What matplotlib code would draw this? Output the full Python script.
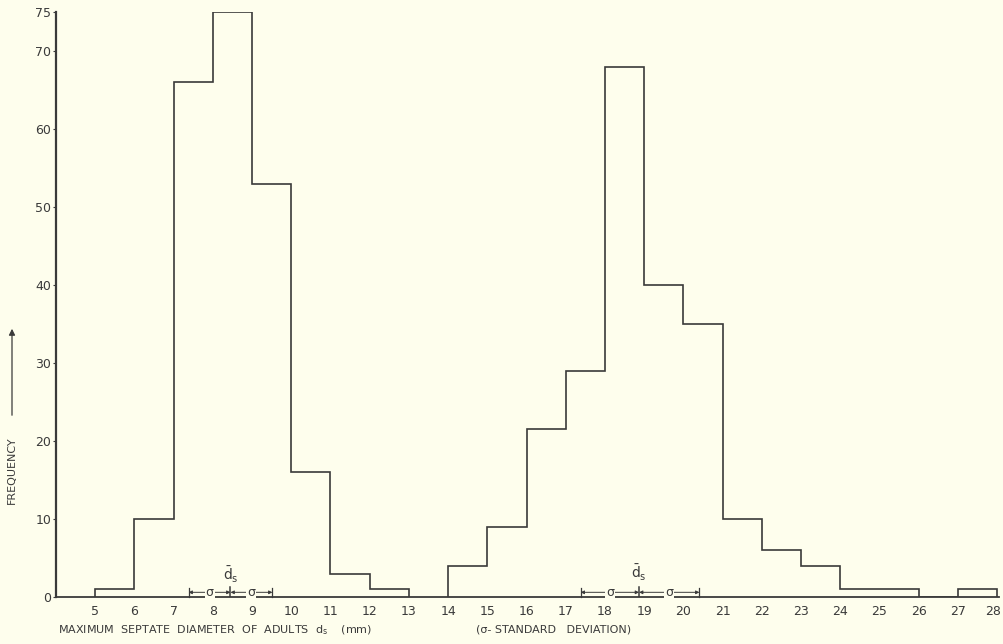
import matplotlib
matplotlib.use("Agg")
import matplotlib.pyplot as plt
import matplotlib.transforms as mtransforms
import numpy as np

# ---- data ----
left_edges = [5, 6, 7, 8, 9, 10, 11, 12, 13]
left_counts = [1, 10, 66, 75, 53, 16, 3, 1]

right_edges = [14, 15, 16, 17, 18, 19, 20, 21, 22, 23, 24, 25, 26, 27, 28]
right_counts = [4, 9, 21.5, 29, 68, 40, 35, 10, 6, 4, 1, 1, 0, 1]

left_mean, left_sigma_lo, left_sigma_hi = 8.45, 7.38, 9.52
right_mean, right_sigma_lo, right_sigma_hi = 18.87, 17.38, 20.41

x_ticks = list(range(5, 29))
y_ticks = [0, 10, 20, 30, 40, 50, 60, 70, 75]

bg = "#fefeed"
ink = "#3a3a3a"

fig = plt.figure(figsize=(10.04, 6.44), dpi=100, facecolor=bg)
ax = fig.add_axes([56 / 1004, 47 / 644, (999 - 56) / 1004, (597 - 12) / 644])
ax.set_facecolor(bg)

ax.stairs(left_counts, left_edges, baseline=0, fill=False, color=ink, lw=1.2)
ax.stairs(right_counts, right_edges, baseline=0, fill=False, color=ink, lw=1.2)

ax.set_xlim(4, 28.05)
ax.set_ylim(0, 75)

ax.set_xticks(x_ticks)
ax.set_xticklabels([str(t) for t in x_ticks])
ax.set_yticks(y_ticks)
ax.set_yticklabels([str(t) for t in y_ticks])
ax.tick_params(axis="x", length=0, pad=6, labelsize=9, labelcolor=ink)
ax.tick_params(axis="y", length=2.5, width=0.8, pad=1, labelsize=9, labelcolor=ink, color=ink)

last = ax.get_xticklabels()[-1]
last.set_ha("right")
last.set_transform(last.get_transform() + mtransforms.ScaledTranslation(4 / 100, 0, fig.dpi_scale_trans))

for s in ["top", "right"]:
    ax.spines[s].set_visible(False)
ax.spines["left"].set_linewidth(1.6)
ax.spines["left"].set_color(ink)
ax.spines["bottom"].set_linewidth(1.3)
ax.spines["bottom"].set_color(ink)


def sigma_marker(mean, lo, hi, lab_y):
    yline = 0.6
    for xv in (lo, hi):
        ax.plot([xv, xv], [0, 1.1], color=ink, lw=0.9, clip_on=False)
    ax.plot([mean, mean], [0, 1.3], color=ink, lw=1.1)
    for a, b in ((lo, mean), (mean, hi)):
        ax.annotate("", xy=(a, yline), xytext=(b, yline),
                    arrowprops=dict(arrowstyle="<|-|>", color=ink, lw=0.7,
                                    mutation_scale=5, shrinkA=0, shrinkB=0))
        ax.text((a + b) / 2, yline, "σ", ha="center", va="center", fontsize=9,
                color=ink, bbox=dict(boxstyle="square,pad=0.08", fc=bg, ec="none"))
    ax.text(mean, lab_y, r"$\bar{\mathrm{d}}_{\mathrm{s}}$", ha="center", va="bottom",
            fontsize=10, color=ink)


sigma_marker(left_mean, left_sigma_lo, left_sigma_hi, 1.6)
sigma_marker(right_mean, right_sigma_lo, right_sigma_hi, 1.8)

fig.text(58 / 1004, 1 - 630 / 644, r"MAXIMUM  SEPTATE  DIAMETER  OF  ADULTS  d$_\mathrm{s}$    (mm)",
         ha="left", va="center", fontsize=8, color=ink)
fig.text(476 / 1004, 1 - 630 / 644, "(σ- STANDARD   DEVIATION)",
         ha="left", va="center", fontsize=8, color=ink)

fig.text(12 / 1004, 1 - 470 / 644, "FREQUENCY", rotation=90, ha="center", va="center",
         fontsize=8, color=ink)
fig.add_artist(matplotlib.patches.FancyArrowPatch(
    (12 / 1004, 1 - 418 / 644), (12 / 1004, 1 - 326 / 644),
    transform=fig.transFigure, arrowstyle="-|>", mutation_scale=9, color=ink, lw=0.9))

fig.savefig("out.png", dpi=100, facecolor=bg)
